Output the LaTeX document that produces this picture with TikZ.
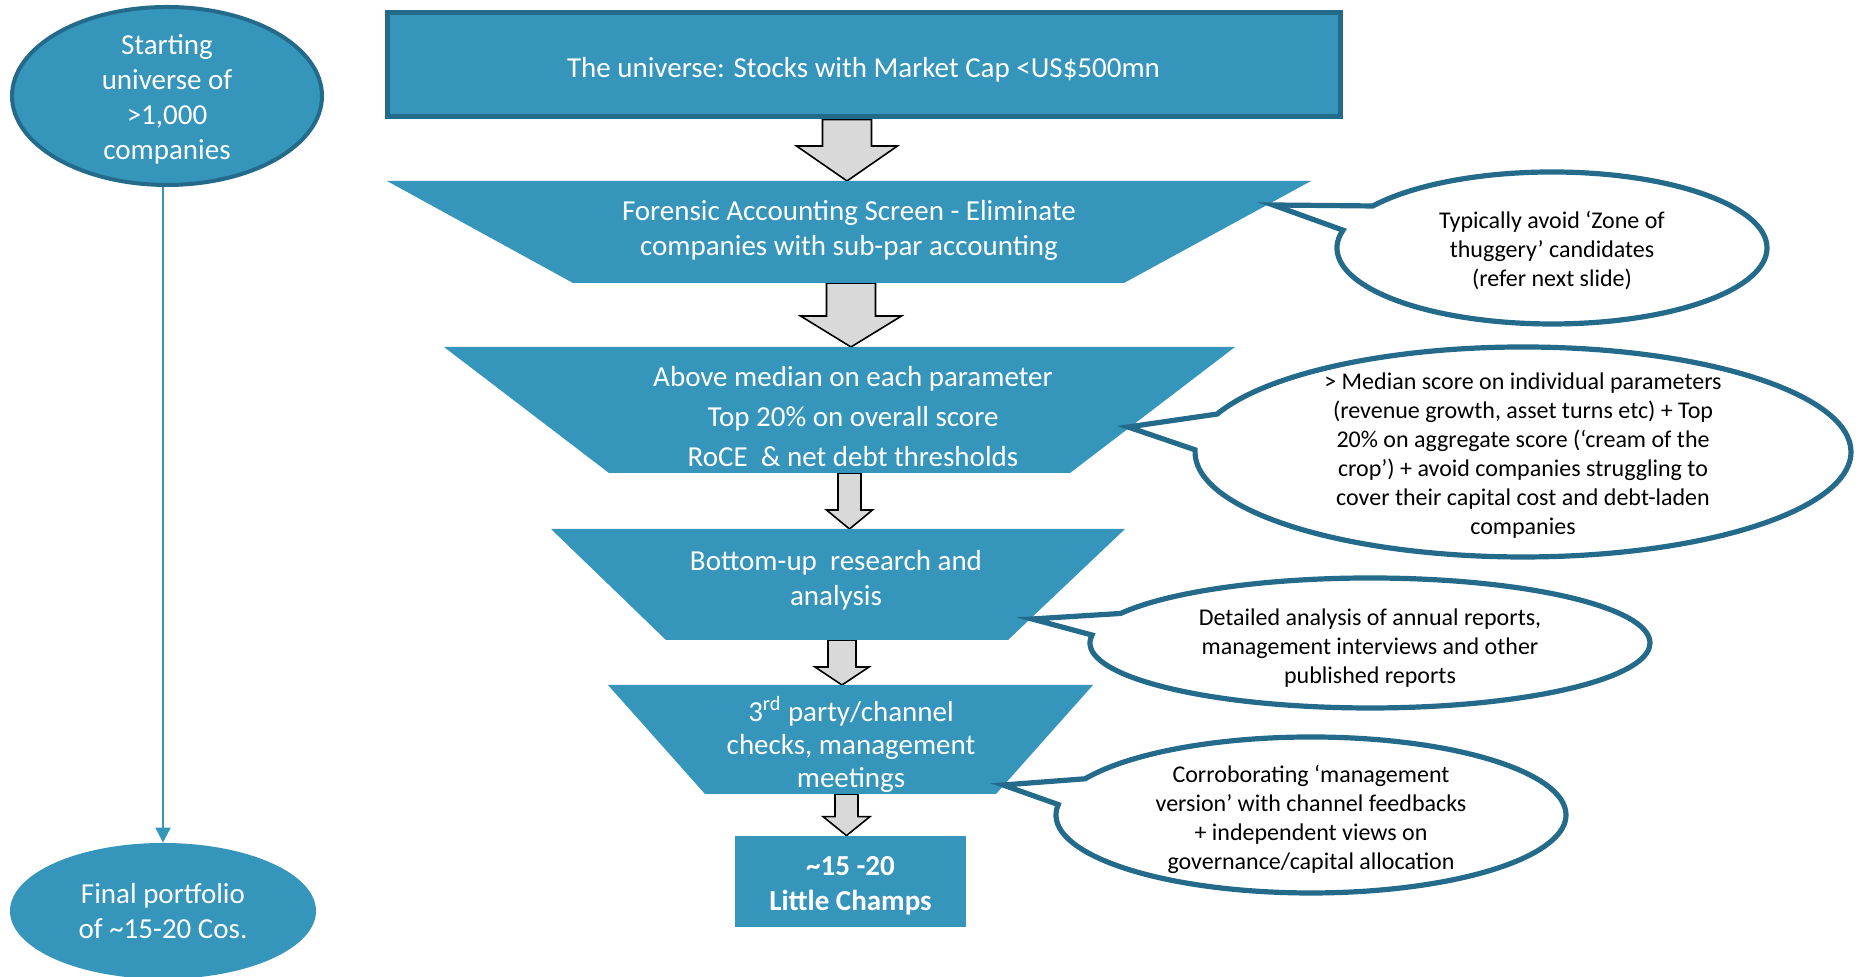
\documentclass[tikz,border=0pt]{standalone}
\usepackage{fontspec}
\setmainfont{Carlito}
\usetikzlibrary{shapes.geometric,shapes.callouts,arrows.meta,calc}
\pgfdeclarelayer{bg}
\pgfsetlayers{bg,main}
\definecolor{lcTeal}{RGB}{54,149,186}
\definecolor{lcDark}{RGB}{36,106,138}
\definecolor{lcGray}{RGB}{217,217,217}
\newcommand\lcstrut[1]{\rule{0pt}{#1}}
\newcommand\blockarrow[5]{\draw[blockarr] let \p1=(#1), \p2=(#2) in
  (\x1-#3,\y1) -- (\x1+#3,\y1) -- (\x1+#3,\y2+#5) -- (\x1+#4,\y2+#5) -- (\x1,\y2)
  -- (\x1-#4,\y2+#5) -- (\x1-#3,\y2+#5) -- cycle;}
\begin{document}
\begin{tikzpicture}[x=0.5pt,y=0.5pt,
  mtext/.style={text=white, align=center, inner sep=0pt, font=\fontsize{14.5}{17.5}\selectfont},
  funnel/.style={fill=lcTeal},
  bigell/.style={ellipse, fill=lcTeal, mtext, inner xsep=0pt, inner ysep=-8pt},
  topbox/.style={rectangle, fill=lcTeal, draw=lcDark, line width=2.5pt, mtext},
  champbox/.style={rectangle, fill=lcTeal, mtext, font=\fontsize{14.5}{17.5}\selectfont\bfseries},
  note/.style={ellipse callout, fill=white, draw=lcDark, line width=2.6pt, text=black, align=center,
    inner xsep=0pt, inner ysep=-10pt, callout pointer arc=20, line join=miter,
    font=\fontsize{12}{14.5}\selectfont},
  blockarr/.style={fill=lcGray, draw=black, line width=0.8pt, line join=miter},
  conn/.style={draw=lcTeal, line width=1pt, -{Triangle[width=7.5pt,length=7.5pt]}}
]
\useasboundingbox (0,0) rectangle (1860,977);

% left column
\node[bigell, draw=lcDark, line width=2pt, minimum width=155pt, minimum height=89pt] (start) at (167,881)
  {\lcstrut{13.5pt}Starting\\universe of\\>1,000\\companies};
\node[bigell, minimum width=153pt, minimum height=68pt] (final) at (163,66)
  {Final portfolio\\of \textasciitilde15-20 Cos.};
\draw[conn] (final.north |- start.south) -- (final.north);

% top box
\node[topbox, minimum width=476.5pt, minimum height=52pt] (universe) at (863.5,912)
  {\lcstrut{15pt}The universe: Stocks with Market Cap <US\$500mn};

% funnel stages
\fill[funnel] (387,796) -- (1311,796) -- (1124,694) -- (573,694) -- cycle;
\fill[funnel] (444,630) -- (1235,630) -- (1070,504) -- (609,504) -- cycle;
\fill[funnel] (551,448) -- (1125,448) -- (1008,337) -- (666,337) -- cycle;
\fill[funnel] (608,292) -- (1093,292) -- (996,183) -- (705,183) -- cycle;

\coordinate (t1top) at (847,796);   \coordinate (t1bot) at (851,694);
\coordinate (t2top) at (851,630);   \coordinate (t2bot) at (849.5,504);
\coordinate (t3top) at (849.5,448); \coordinate (t3bot) at (842,337);
\coordinate (t4top) at (842,292);   \coordinate (t4bot) at (846.5,183);

\node[mtext, yshift=-1.2pt] (t1) at (849,749) {Forensic Accounting Screen - Eliminate\\companies with sub-par accounting};
\node[mtext, yshift=-0.6pt, font=\fontsize{14.5}{20}\selectfont] (t2) at (853,562)
  {Above median on each parameter\\Top 20\% on overall score\\RoCE\ \ \& net debt thresholds};
\node[mtext, yshift=-1.5pt] (t3) at (836,400) {Bottom-up\ \ research and\\analysis};
\node[mtext, yshift=-1.2pt, font=\fontsize{14.5}{16.5}\selectfont] (t4) at (851,235)
  {3\textsuperscript{rd} party/channel\\checks, management\\meetings};

\node[champbox, minimum width=115.5pt, minimum height=45.5pt] (champs) at (850.5,95.5)
  {\lcstrut{14pt}\textasciitilde15 -20\\Little Champs};

% block arrows (behind)
\begin{pgfonlayer}{bg}
\blockarrow{t1top |- universe.south}{t1top}{12.25pt}{25.25pt}{17.5pt}
\blockarrow{t1bot}{t2top}{12.25pt}{25.25pt}{15.5pt}
\blockarrow{t2bot}{t3top}{5.75pt}{11.5pt}{9.5pt}
\blockarrow{t3bot}{t4top}{7pt}{13.5pt}{9pt}
\blockarrow{t4bot}{t4bot |- champs.north}{5.75pt}{11.75pt}{9.5pt}
\end{pgfonlayer}

% callouts
\coordinate (p1) at (1273,772);
\coordinate (p2) at (1128,550);
\coordinate (p3) at (1032,358);
\coordinate (p4) at (1003,192);

\node[note, minimum width=215pt, minimum height=76pt, callout absolute pointer={(p1)}] (c1) at (1552,729)
  {\lcstrut{11pt}Typically avoid ‘Zone of\\thuggery’ candidates\\(refer next slide)};
\node[note, minimum width=328pt, minimum height=105pt, callout absolute pointer={(p2)}] (c2) at (1523,525)
  {\lcstrut{12pt}> Median score on individual parameters\\(revenue growth, asset turns etc) + Top\\20\% on aggregate score (‘cream of the\\crop’) + avoid companies struggling to\\cover their capital cost and debt-laden\\companies};
\node[note, minimum width=280pt, minimum height=65pt, callout absolute pointer={(p3)}] (c3) at (1370,334)
  {\lcstrut{13pt}Detailed analysis of annual reports,\\management interviews and other\\published reports};
\node[note, minimum width=255pt, minimum height=78pt, callout absolute pointer={(p4)}] (c4) at (1311,162)
  {\lcstrut{13pt}Corroborating ‘management\\version’ with channel feedbacks\\+ independent views on\\governance/capital allocation};
\end{tikzpicture}
\end{document}
